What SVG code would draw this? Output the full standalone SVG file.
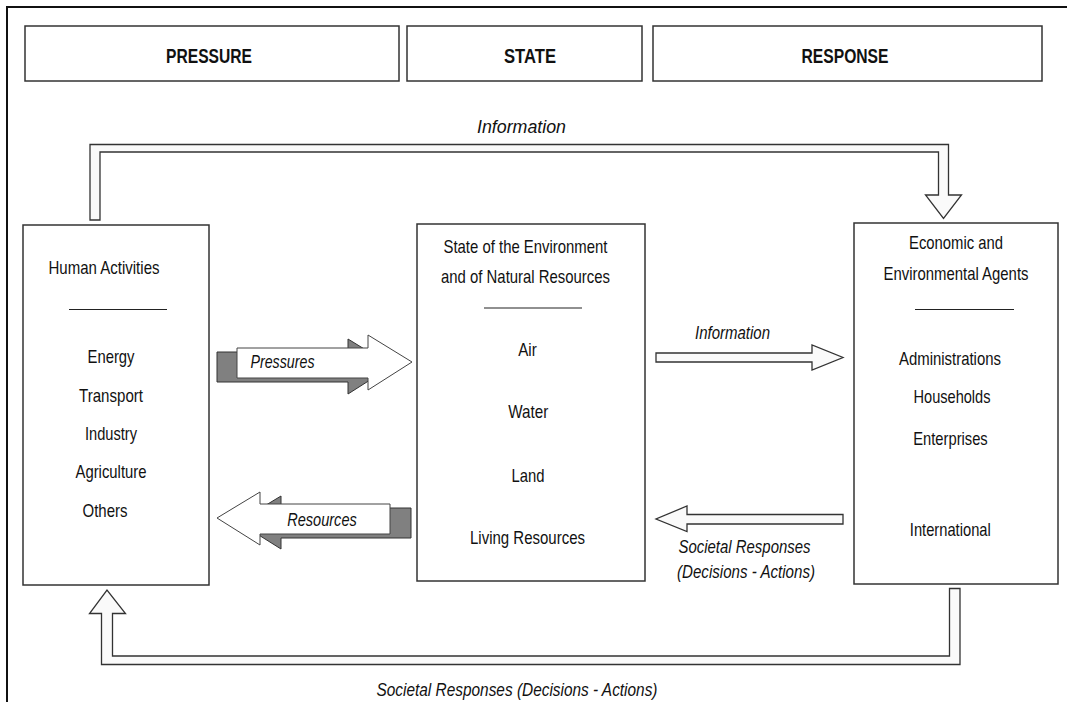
<svg xmlns="http://www.w3.org/2000/svg" width="1067" height="702" viewBox="0 0 1067 702">
<defs>
<style>
text{font-family:"Liberation Sans Narrow","Liberation Sans",Arial,sans-serif;fill:#111;}
.t{font-size:19px;text-anchor:middle;}
.h{font-size:21px;font-weight:bold;text-anchor:middle;}
.i{font-size:19px;font-style:italic;text-anchor:middle;}
.box{fill:#fff;stroke:#333;stroke-width:1.5;}
.div{stroke:#222;stroke-width:1.2;}
.hollow{fill:#fafafa;stroke:#333;stroke-width:1.3;stroke-linejoin:miter;}
.back{fill:#808080;stroke:#333;stroke-width:1;}
.front{fill:#fff;stroke:#444;stroke-width:1;}
</style>
</defs>
<rect x="0" y="0" width="1067" height="702" fill="#fff"/>
<rect x="7" y="7" width="1075" height="710" fill="none" stroke="#111" stroke-width="2"/>

<g id="header-pressure">
<rect class="box" x="25" y="26" width="374" height="55"/>
<text class="h" x="209" y="63" textLength="86" lengthAdjust="spacingAndGlyphs">PRESSURE</text>
</g>
<g id="header-state">
<rect class="box" x="407" y="26" width="235" height="55"/>
<text class="h" x="530" y="63" textLength="52" lengthAdjust="spacingAndGlyphs">STATE</text>
</g>
<g id="header-response">
<rect class="box" x="653" y="26" width="389" height="55"/>
<text class="h" x="845" y="63" textLength="87" lengthAdjust="spacingAndGlyphs">RESPONSE</text>
</g>

<g id="human-activities">
<rect class="box" x="23" y="225" width="186" height="360"/>
<text class="t" x="104" y="274" textLength="111" lengthAdjust="spacingAndGlyphs">Human Activities</text>
<line class="div" x1="69" y1="309.5" x2="167" y2="309.5"/>
<text class="t" x="111" y="363" textLength="47" lengthAdjust="spacingAndGlyphs">Energy</text>
<text class="t" x="111" y="401.5" textLength="64" lengthAdjust="spacingAndGlyphs">Transport</text>
<text class="t" x="111" y="440" textLength="52" lengthAdjust="spacingAndGlyphs">Industry</text>
<text class="t" x="111" y="478" textLength="71" lengthAdjust="spacingAndGlyphs">Agriculture</text>
<text class="t" x="105" y="516.5" textLength="45" lengthAdjust="spacingAndGlyphs">Others</text>
</g>

<g id="state-environment">
<rect class="box" x="417" y="224" width="228" height="357"/>
<text class="t" x="525.5" y="253" textLength="164" lengthAdjust="spacingAndGlyphs">State of the Environment</text>
<text class="t" x="525.5" y="282.5" textLength="169" lengthAdjust="spacingAndGlyphs">and of Natural Resources</text>
<line class="div" x1="484" y1="308" x2="582" y2="308"/>
<text class="t" x="527.5" y="356" textLength="18.5" lengthAdjust="spacingAndGlyphs">Air</text>
<text class="t" x="528.3" y="418" textLength="40" lengthAdjust="spacingAndGlyphs">Water</text>
<text class="t" x="528" y="481.5" textLength="33" lengthAdjust="spacingAndGlyphs">Land</text>
<text class="t" x="527.5" y="544" textLength="115" lengthAdjust="spacingAndGlyphs">Living Resources</text>
</g>

<g id="agents">
<rect class="box" x="854" y="223" width="204" height="361"/>
<text class="t" x="956" y="249" textLength="94" lengthAdjust="spacingAndGlyphs">Economic and</text>
<text class="t" x="956" y="279.5" textLength="145" lengthAdjust="spacingAndGlyphs">Environmental Agents</text>
<line class="div" x1="915" y1="309.5" x2="1014" y2="309.5"/>
<text class="t" x="950" y="365" textLength="102" lengthAdjust="spacingAndGlyphs">Administrations</text>
<text class="t" x="952" y="403.3" textLength="77" lengthAdjust="spacingAndGlyphs">Households</text>
<text class="t" x="950.5" y="445" textLength="74.5" lengthAdjust="spacingAndGlyphs">Enterprises</text>
<text class="t" x="950.3" y="535.5" textLength="81" lengthAdjust="spacingAndGlyphs">International</text>
</g>

<g id="connectors">
<path class="hollow" d="M90,220 L90,144.5 L948.5,144.5 L948.5,195 L961.5,195 L943.5,218.5 L925.5,195 L938.5,195 L938.5,152 L100,152 L100,220 Z"/>
<text class="i" x="521.5" y="133" textLength="89" lengthAdjust="spacingAndGlyphs">Information</text>

<polygon class="back" points="217,352 348,352 348,339 392,366 348,394 348,382 217,382"/>
<polygon class="front" points="237,348 368,348 368,335 412,362 368,390 368,378 237,378"/>
<text class="i" x="282.5" y="367.5" textLength="64" lengthAdjust="spacingAndGlyphs">Pressures</text>

<polygon class="back" points="238,522 281,496 281,508 411,508 411,538 281,538 281,549"/>
<polygon class="front" points="217,518 260,492 260,504 390,504 390,534 260,534 260,545"/>
<text class="i" x="322" y="525.7" textLength="69.5" lengthAdjust="spacingAndGlyphs">Resources</text>

<polygon class="hollow" points="656,353 812,353 812,345 843,357.5 812,370 812,362 656,362"/>
<text class="i" x="732.5" y="339.3" textLength="75" lengthAdjust="spacingAndGlyphs">Information</text>

<polygon class="hollow" points="843,514.5 687,514.5 687,506 656,519 687,531.5 687,524 843,524"/>
<text class="i" x="744.5" y="553" textLength="132" lengthAdjust="spacingAndGlyphs">Societal Responses</text>
<text class="i" x="746" y="578" textLength="138" lengthAdjust="spacingAndGlyphs">(Decisions - Actions)</text>

<path class="hollow" d="M949.5,588.5 L960,588.5 L960,664.5 L101.5,664.5 L101.5,613.5 L89.5,613.5 L107,590 L125.5,613.5 L112.5,613.5 L112.5,656 L949.5,656 Z"/>
<text class="i" x="517" y="696" textLength="281" lengthAdjust="spacingAndGlyphs">Societal Responses (Decisions - Actions)</text>
</g>
</svg>
